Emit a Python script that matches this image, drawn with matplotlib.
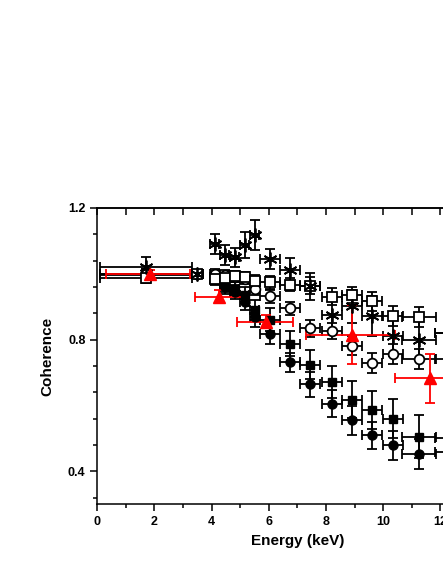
import matplotlib
matplotlib.use('Agg')
import matplotlib.pyplot as plt
from matplotlib.ticker import MultipleLocator

plt.rcParams['font.family'] = ['Liberation Sans', 'DejaVu Sans']
plt.rcParams['font.weight'] = 'bold'

# energy bins shared by the black series
energy = [1.7, 3.5, 4.1, 4.45, 4.8, 5.15, 5.5, 6.05, 6.75, 7.45, 8.2, 8.9, 9.6, 10.35, 11.25, 12.4]
energy_err = [1.6, 0.2, 0.17, 0.17, 0.17, 0.17, 0.17, 0.35, 0.35, 0.35, 0.35, 0.35, 0.35, 0.35, 0.6, 0.6]

star = [1.021, 1.0, 1.091, 1.058, 1.05, 1.088, 1.118, 1.046, 1.012, 0.962, 0.874, 0.902, 0.872, 0.81, 0.80, 0.82]
star_err = [0.03, 0.01, 0.03, 0.03, 0.03, 0.04, 0.045, 0.03, 0.035, 0.04, 0.05, 0.05, 0.06, 0.06, 0.06, 0.06]

open_sq = [0.987, 1.0, 0.984, 0.987, 0.994, 0.99, 0.977, 0.974, 0.967, 0.964, 0.931, 0.936, 0.916, 0.873, 0.869, 0.82]
open_sq_err = [0.015, 0.01, 0.015, 0.015, 0.015, 0.015, 0.02, 0.02, 0.02, 0.025, 0.025, 0.025, 0.03, 0.03, 0.03, 0.03]

open_circ = [1.0, 1.0, 1.0, 0.997, 0.99, 0.985, 0.955, 0.932, 0.895, 0.834, 0.827, 0.782, 0.729, 0.756, 0.741, 0.74]
open_circ_err = [0.015, 0.01, 0.015, 0.015, 0.015, 0.015, 0.02, 0.02, 0.02, 0.025, 0.025, 0.03, 0.03, 0.03, 0.03, 0.03]

fill_sq = [1.0, 1.0, 0.99, 0.965, 0.955, 0.935, 0.89, 0.86, 0.788, 0.724, 0.671, 0.618, 0.586, 0.56, 0.505, 0.50]
fill_sq_err = [0.015, 0.01, 0.02, 0.02, 0.02, 0.025, 0.03, 0.035, 0.037, 0.044, 0.048, 0.056, 0.057, 0.06, 0.065, 0.065]

fill_circ = [0.995, 1.0, 0.985, 0.96, 0.945, 0.915, 0.87, 0.818, 0.731, 0.664, 0.606, 0.555, 0.509, 0.479, 0.452, 0.46]
fill_circ_err = [0.015, 0.01, 0.02, 0.02, 0.02, 0.025, 0.03, 0.03, 0.03, 0.037, 0.04, 0.043, 0.042, 0.043, 0.045, 0.045]

# red triangles, own binning
red_e = [1.85, 4.25, 5.9, 8.9, 11.65]
red_e_lo = [1.55, 0.85, 1.0, 1.6, 1.24]
red_e_hi = [1.4, 0.85, 0.95, 1.5, 1.24]
red_coh = [1.0, 0.93, 0.855, 0.815, 0.683]
red_coh_err = [0.012, 0.02, 0.02, 0.09, 0.075]

fig = plt.figure(figsize=(4.43, 5.73), dpi=100)
ax = fig.add_axes([0.2196, 0.1199, 0.9038, 0.5171])

common = dict(ecolor='black', elinewidth=1.3, capsize=3.5, capthick=1.3, linestyle='none')

ax.errorbar(energy, fill_circ, xerr=energy_err, yerr=fill_circ_err, marker='o', ms=6.5,
            mfc='black', mec='black', **common)
ax.errorbar(energy, fill_sq, xerr=energy_err, yerr=fill_sq_err, marker='s', ms=5.5,
            mfc='black', mec='black', **common)
ax.errorbar(energy, open_circ, xerr=energy_err, yerr=open_circ_err, marker='o', ms=7,
            mfc='white', mec='black', mew=1.3, **common)
ax.errorbar(energy, open_sq, xerr=energy_err, yerr=open_sq_err, marker='s', ms=7,
            mfc='white', mec='black', mew=1.3, **common)
ax.errorbar(energy, star, xerr=energy_err, yerr=star_err, marker=(6, 2, 0), ms=10,
            mfc='black', mec='black', mew=1.3, **common)

ax.errorbar(red_e, red_coh, xerr=[red_e_lo, red_e_hi], yerr=red_coh_err, marker='^', ms=8,
            mfc='red', mec='red', ecolor='red', elinewidth=1.3, capsize=3.5, capthick=1.3,
            linestyle='none')

ax.set_xlim(0, 14)
ax.set_ylim(0.3, 1.2)

ax.xaxis.set_major_locator(MultipleLocator(2))
ax.xaxis.set_minor_locator(MultipleLocator(1))
ax.yaxis.set_major_locator(MultipleLocator(0.4))
ax.yaxis.set_minor_locator(MultipleLocator(0.08))

for s in ax.spines.values():
    s.set_linewidth(1.1)

ax.tick_params(which='major', direction='out', length=5, width=1.1, labelsize=9)
ax.tick_params(which='minor', direction='out', length=3, width=1.1)
ax.set_yticks([0.4, 0.8, 1.2])
ax.set_yticklabels(['0.4', '0.8', '1.2'])

top = ax.secondary_xaxis('top')
top.xaxis.set_major_locator(MultipleLocator(1))
top.tick_params(direction='in', length=5, width=1.1, labeltop=False)
top.spines['top'].set_linewidth(1.1)

ax.set_xlabel('Energy (keV)', fontsize=11, fontweight='bold', labelpad=4)
ax.set_ylabel('Coherence', fontsize=11, fontweight='bold', labelpad=10)

fig.savefig('out.png', dpi=100)
